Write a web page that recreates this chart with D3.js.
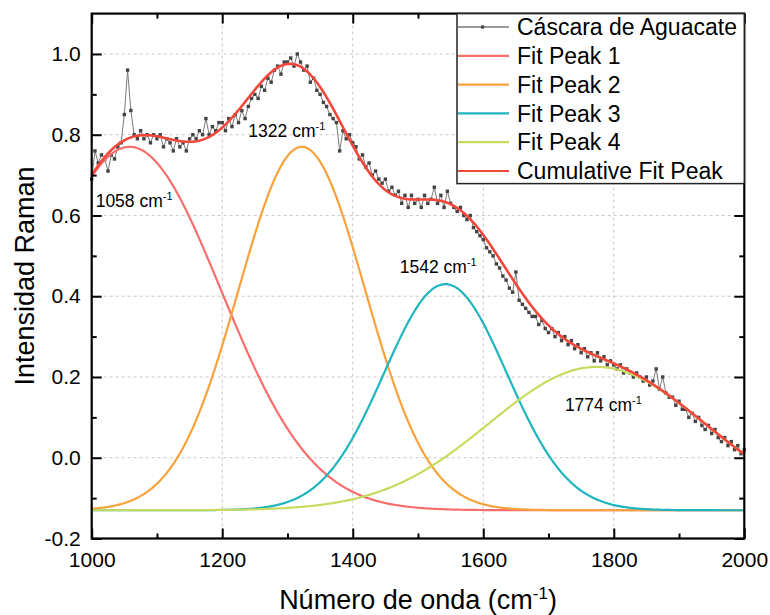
<!DOCTYPE html>
<html><head><meta charset="utf-8">
<script src="https://cdn.jsdelivr.net/npm/d3@7"></script>
<style>
body{margin:0;background:#fff}
svg{display:block}
text{font-family:"Liberation Sans",Arial,Helvetica,sans-serif;fill:#000}
</style>
</head><body>
<svg id="chart" width="770" height="615"></svg>
<script>
// ---------- data ----------
const waveStart = 1000, waveEnd = 2000, waveStep = 5;
const intensity = [
  0.69,0.76,0.73,0.75,0.74,0.71,0.75,0.74,0.77,0.78,0.85,0.96,0.86,0.80,0.79,0.81,0.79,0.80,0.78,0.80,
  0.79,0.80,0.77,0.79,0.78,0.76,0.79,0.77,0.78,0.76,0.79,0.80,0.79,0.81,0.80,0.84,0.80,0.82,0.81,0.83,
  0.83,0.81,0.84,0.82,0.85,0.83,0.86,0.84,0.87,0.89,0.90,0.89,0.92,0.91,0.94,0.93,0.96,0.97,0.95,0.98,
  0.98,0.99,0.97,1.00,0.98,0.96,0.97,0.93,0.94,0.91,0.90,0.88,0.87,0.85,0.84,0.83,0.76,0.81,0.79,0.80,
  0.78,0.77,0.74,0.75,0.72,0.73,0.70,0.71,0.69,0.68,0.69,0.66,0.67,0.65,0.66,0.63,0.65,0.62,0.65,0.63,
  0.64,0.62,0.65,0.63,0.64,0.67,0.63,0.65,0.62,0.66,0.63,0.62,0.61,0.62,0.60,0.59,0.60,0.57,0.56,0.55,
  0.54,0.52,0.51,0.50,0.48,0.47,0.45,0.44,0.42,0.41,0.46,0.39,0.38,0.37,0.36,0.35,0.35,0.33,0.34,0.32,
  0.31,0.32,0.30,0.31,0.29,0.30,0.28,0.29,0.27,0.28,0.26,0.27,0.25,0.26,0.24,0.26,0.24,0.25,0.23,0.24,
  0.23,0.22,0.23,0.21,0.22,0.21,0.20,0.21,0.20,0.19,0.20,0.18,0.19,0.22,0.17,0.20,0.16,0.15,0.15,0.13,
  0.14,0.12,0.12,0.10,0.11,0.09,0.10,0.08,0.07,0.08,0.06,0.07,0.05,0.04,0.05,0.03,0.04,0.02,0.03,0.01,
  0.02
];
// Gaussian fit parameters
const fitBaseline = -0.13;
const peakCenters = [1058, 1322, 1542, 1774];
const peakHeights = [0.90, 0.90, 0.56, 0.355];
const peakSigmas  = [140, 97, 94, 165];
const peakLabels  = ["1058", "1322", "1542", "1774"];
const peakLabelAt = [[1065, 0.62], [1299, 0.795], [1531, 0.458], [1784, 0.116]];
const seriesNames = ["Cáscara de Aguacate", "Fit Peak 1", "Fit Peak 2", "Fit Peak 3", "Fit Peak 4", "Cumulative Fit Peak"];
const peakColors  = ["#f76f6d", "#f9a23c", "#1fb5bf", "#c9da5f"];
const cumColor = "#f2483c";
const xTicks = [1000, 1200, 1400, 1600, 1800, 2000];
const xMinor = [1100, 1300, 1500, 1700, 1900];
const yTicks = [-0.2, 0.0, 0.2, 0.4, 0.6, 0.8, 1.0];
const yMinor = [-0.1, 0.1, 0.3, 0.5, 0.7, 0.9];

// ---------- layout ----------
const L = 91.7, R = 744.3, T = 13.6, B = 538.5;
const svg = d3.select("#chart");
const x = d3.scaleLinear().domain([1000, 2000]).range([L, R]);
const y = d3.scaleLinear().domain([-0.2, 1.1]).range([B, T]);

const waves = d3.range(waveStart, waveEnd + 0.001, waveStep);
const pts = waves.map((w, i) => [w, intensity[i]]);
const fine = d3.range(1000, 2000.001, 2);
const gauss = (w, k) => peakHeights[k] * Math.exp(-((w - peakCenters[k]) ** 2) / (2 * peakSigmas[k] ** 2));
const peakCurves = peakCenters.map((c, k) => fine.map(w => [w, fitBaseline + gauss(w, k)]));
const cumCurve = fine.map(w => [w, fitBaseline + d3.sum(peakCenters, (c, k) => gauss(w, k))]);

// grid
const grid = svg.append("g").attr("stroke", "#c9c9c9").attr("stroke-width", 1).attr("stroke-dasharray", "3,3");
grid.selectAll(".gx").data(xTicks.slice(1, -1)).join("line")
  .attr("x1", d => x(d)).attr("x2", d => x(d)).attr("y1", T).attr("y2", B);
grid.selectAll(".gy").data(yTicks.slice(1)).join("line")
  .attr("x1", L).attr("x2", R).attr("y1", d => y(d)).attr("y2", d => y(d));

const line = d3.line().x(d => x(d[0])).y(d => y(d[1]));
const plot = svg.append("g");

// data line + markers
plot.append("path").attr("d", line(pts)).attr("fill", "none").attr("stroke", "#7a7a7a").attr("stroke-width", 1);
plot.selectAll("rect.pt").data(pts).join("rect").attr("class", "pt")
  .attr("x", d => x(d[0]) - 1.7).attr("y", d => y(d[1]) - 1.7)
  .attr("width", 3.4).attr("height", 3.4).attr("fill", "#444");

// peaks
peakCurves.forEach((c, k) => {
  plot.append("path").attr("d", line(c)).attr("fill", "none")
    .attr("stroke", peakColors[k]).attr("stroke-width", 2.2);
});
plot.append("path").attr("d", line(cumCurve)).attr("fill", "none")
  .attr("stroke", cumColor).attr("stroke-width", 2.6);

// peak labels
peakLabels.forEach((lab, k) => {
  const t = svg.append("text").attr("x", x(peakLabelAt[k][0])).attr("y", y(peakLabelAt[k][1]))
    .attr("text-anchor", "middle").style("font-size", "17.5px");
  t.append("tspan").text(lab + " cm");
  t.append("tspan").attr("dy", -7).style("font-size", "11px").text("-1");
});

// axes (ticks inward on all sides)
const fmtY = d => d.toFixed(1);
const styleTicks = g => { g.select(".domain").remove(); g.selectAll("line").attr("stroke-width", 2); };
svg.append("g").attr("transform", `translate(0,${B})`)
  .call(d3.axisBottom(x).tickValues(xTicks).tickFormat(d => d).tickSizeInner(-10).tickSizeOuter(0).tickPadding(14))
  .call(styleTicks).call(g => g.selectAll("text").style("font-size", "21px"));
svg.append("g").attr("transform", `translate(0,${B})`)
  .call(d3.axisBottom(x).tickValues(xMinor).tickFormat("").tickSizeInner(-5).tickSizeOuter(0)).call(styleTicks);
svg.append("g").attr("transform", `translate(0,${T})`)
  .call(d3.axisTop(x).tickValues(xTicks).tickFormat("").tickSizeInner(-10).tickSizeOuter(0)).call(styleTicks);
svg.append("g").attr("transform", `translate(0,${T})`)
  .call(d3.axisTop(x).tickValues(xMinor).tickFormat("").tickSizeInner(-5).tickSizeOuter(0)).call(styleTicks);
svg.append("g").attr("transform", `translate(${L},0)`)
  .call(d3.axisLeft(y).tickValues(yTicks).tickFormat(fmtY).tickSizeInner(-10).tickSizeOuter(0).tickPadding(11))
  .call(styleTicks).call(g => g.selectAll("text").style("font-size", "21px"));
svg.append("g").attr("transform", `translate(${L},0)`)
  .call(d3.axisLeft(y).tickValues(yMinor).tickFormat("").tickSizeInner(-5).tickSizeOuter(0)).call(styleTicks);
svg.append("g").attr("transform", `translate(${R},0)`)
  .call(d3.axisRight(y).tickValues(yTicks).tickFormat("").tickSizeInner(-10).tickSizeOuter(0)).call(styleTicks);
svg.append("g").attr("transform", `translate(${R},0)`)
  .call(d3.axisRight(y).tickValues(yMinor).tickFormat("").tickSizeInner(-5).tickSizeOuter(0)).call(styleTicks);

// frame
svg.append("rect").attr("x", L).attr("y", T).attr("width", R - L).attr("height", B - T)
  .attr("fill", "none").attr("stroke", "#000").attr("stroke-width", 2.2);

// legend
const lg = svg.append("g");
const lgX = 457, lgW = R - 457, lgH = 170;
lg.append("rect").attr("x", lgX).attr("y", T).attr("width", lgW).attr("height", lgH)
  .attr("fill", "#fff").attr("stroke", "#222").attr("stroke-width", 1.5);
const legendColors = ["#7a7a7a", ...peakColors, cumColor];
seriesNames.forEach((name, i) => {
  const cy = 27 + i * 28.8;
  lg.append("line").attr("x1", lgX + 1).attr("x2", 509).attr("y1", cy).attr("y2", cy)
    .attr("stroke", legendColors[i]).attr("stroke-width", i === 0 ? 1.5 : 2.2);
  if (i === 0) lg.append("rect").attr("x", 481).attr("y", cy - 1.6).attr("width", 3.2).attr("height", 3.2).attr("fill", "#444");
  lg.append("text").attr("x", 517).attr("y", cy).attr("dy", "0.36em").style("font-size", "23px").text(name);
});

// axis titles
const xt = svg.append("text").attr("x", (L + R) / 2).attr("y", 609).attr("text-anchor", "middle").style("font-size", "27px");
xt.append("tspan").text("Número de onda (cm");
xt.append("tspan").attr("dy", -10).style("font-size", "17px").text("-1");
xt.append("tspan").attr("dy", 10).text(")");
svg.append("text").attr("transform", `translate(34,${(T + B) / 2}) rotate(-90)`)
  .attr("text-anchor", "middle").style("font-size", "27px").text("Intensidad Raman");
</script>
</body></html>
